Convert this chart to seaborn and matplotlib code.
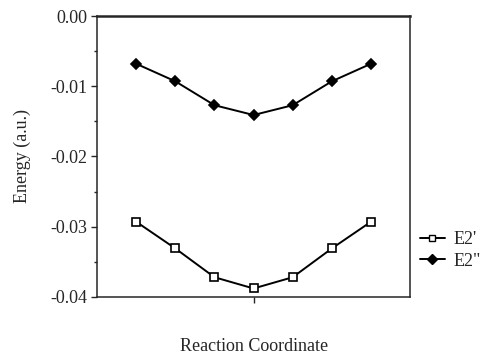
import numpy as np
import pandas as pd
import seaborn as sns
import matplotlib.pyplot as plt
from matplotlib.lines import Line2D

# Data
coord = [1, 2, 3, 4, 5, 6, 7]
e2_prime = [-0.0293, -0.0331, -0.0372, -0.0388, -0.0372, -0.0331, -0.0293]
e2_dprime = [-0.0068, -0.0093, -0.0127, -0.0141, -0.0127, -0.0093, -0.0068]
series = ["E2'", 'E2"']

df = pd.DataFrame({
    'coord': coord * 2,
    'energy': e2_prime + e2_dprime,
    'state': [series[0]] * 7 + [series[1]] * 7,
})

sns.set_style('ticks')
plt.rcParams['font.family'] = ['Liberation Serif', 'DejaVu Serif']

fig = plt.figure(figsize=(4.83, 3.56), dpi=100)
ax = fig.add_axes([0.201, 0.166, 0.648, 0.789])

sns.lineplot(data=df, x='coord', y='energy', hue='state', style='state',
             palette=['black', 'black'], markers={series[0]: 's', series[1]: 'D'},
             dashes=False, linewidth=1.4, markersize=5.5, ax=ax, legend=False)

# open squares for E2', filled diamonds for E2"
for ln in ax.lines:
    ln.set_markeredgecolor('black')
    ln.set_markeredgewidth(1.2)
ax.lines[0].set_markerfacecolor('white')
ax.lines[1].set_markersize(5)

ax.set_xlim(0, 8)
ax.set_ylim(-0.04, 0.0)
ax.set_xticks([4])
ax.set_xticklabels([])
ax.set_yticks([-0.04, -0.03, -0.02, -0.01, 0.0])
ax.set_yticklabels(['-0.04', '-0.03', '-0.02', '-0.01', '0.00'])
ax.set_yticks([-0.035, -0.025, -0.015, -0.005], minor=True)
ax.tick_params(axis='y', which='major', direction='out', length=4, width=1, labelsize=13, pad=3)
ax.tick_params(axis='y', which='minor', direction='out', length=2, width=1)
ax.tick_params(axis='x', direction='out', length=4, width=1)
for side in ['left', 'right', 'bottom']:
    ax.spines[side].set_linewidth(1.1)
ax.spines['top'].set_linewidth(1.8)

ax.set_xlabel('Reaction Coordinate', fontsize=13, labelpad=22)
ax.set_ylabel('Energy (a.u.)', fontsize=13, labelpad=14)

# legend outside on the right
handles = [
    Line2D([], [], color='black', marker='s', markerfacecolor='white', markersize=5, linewidth=1.4),
    Line2D([], [], color='black', marker='D', markersize=5, linewidth=1.4),
]
ax.legend(handles, series, loc='center left', bbox_to_anchor=(0.99, 0.165),
          frameon=False, fontsize=13, handlelength=1.4, handletextpad=0.5,
          labelspacing=0.25, borderaxespad=0.3)

fig.savefig('out.png', dpi=100)
